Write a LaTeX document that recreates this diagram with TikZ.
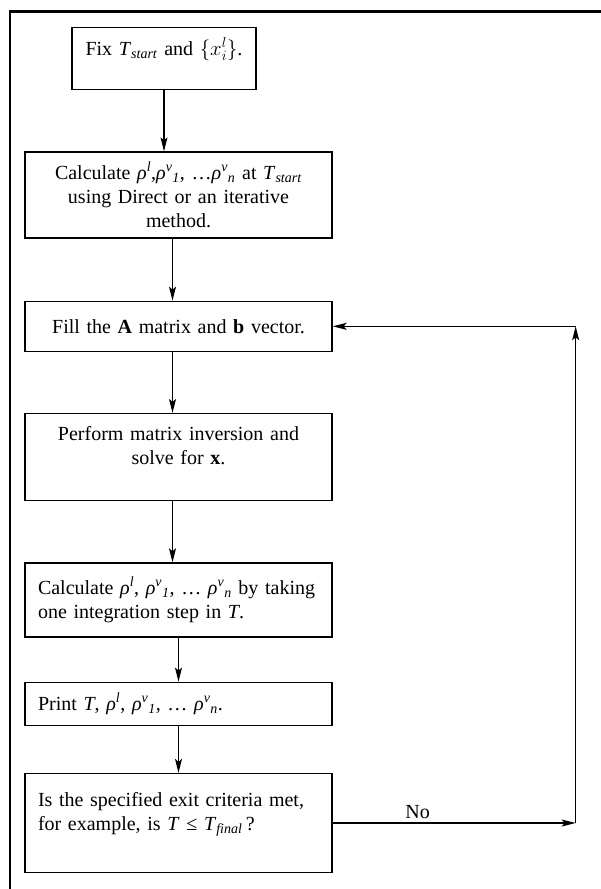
\documentclass[tikz,border=0pt]{standalone}
\usepackage{fontspec}
\setmainfont{Liberation Serif}
\usepackage{tikz}
\usetikzlibrary{arrows.meta,positioning}

\newcommand{\Tsub}[1]{\textit{T}\textsubscript{\textit{#1}}}
\newcommand{\rhol}{\textit{ρ}\textsuperscript{\textit{l}}}
\newcommand{\rhov}[1]{\textit{ρ}\textsuperscript{\textit{v}}\textsubscript{\textit{#1}}}

\begin{document}
\begin{tikzpicture}[x=1pt, y=-1pt,
  node distance=61pt,
  box/.style={draw, line width=1.3pt, rectangle, inner xsep=13pt, inner ysep=3pt,
    text width=281pt, align=center, font=\fontsize{20}{24}\selectfont},
  lbox/.style={box, align=left},
  >={Stealth[length=14pt, width=7pt, inset=3pt]},
  flow/.style={->, line width=1.1pt}]
  \useasboundingbox (0,0) rectangle (601,889);
  % frame round the figure
  \draw[line width=2.6pt] (10,889) -- (10,11.5) -- (601,11.5);

  \node[box, minimum height=86pt] (calc) at (178.5,195)
    {Calculate \rhol,\rhov{1}, …\rhov{n} at \Tsub{start}\\using Direct or an iterative\\method.};
  \node[box, text width=158pt, minimum height=62pt, above=61pt of calc, xshift=-14.5pt] (fix)
    {Fix \Tsub{start} and $\{x_i^{l}\}$.\\\mbox{}};
  \node[box, minimum height=50pt, below=62pt of calc] (fill)
    {Fill the \textbf{A} matrix and \textbf{b} vector.};
  \node[box, minimum height=87pt, below=of fill] (invert)
    {Perform matrix inversion and\\solve for \textbf{x}.\\\mbox{}};
  \node[lbox, minimum height=74pt, below=of invert] (step)
    {Calculate \rhol, \rhov{1}, … \rhov{n} by taking\\one integration step in \textit{T}.};
  \node[lbox, minimum height=43pt, below=44pt of step] (print)
    {Print \textit{T}, \rhol, \rhov{1}, … \rhov{n}.};
  \node[lbox, minimum height=99pt, below=47pt of print] (check)
    {Is the specified exit criteria met,\\for example, is \textit{T} ≤ \Tsub{final}\,?\\\mbox{}};

  \coordinate (nocorner) at ([xshift=243pt]check.east);
  \coordinate (backcorner) at (nocorner |- fill.east);

  \draw[flow] (fix.south) -- (fix.south |- calc.north);
  \draw[flow] ([xshift=-6pt]calc.south) -- ([xshift=-6pt]fill.north);
  \draw[flow] ([xshift=-6pt]fill.south) -- ([xshift=-6pt]invert.north);
  \draw[flow] ([xshift=-6pt]invert.south) -- ([xshift=-6pt]step.north);
  \draw[flow] (step) -- (print);
  \draw[flow] (print) -- (check);
  \draw[flow] (check.east) -- node[above, pos=0.35, font=\fontsize{20}{24}\selectfont] (no) {No} (nocorner);
  \draw[flow] (nocorner) -- (backcorner);
  \draw[flow] (backcorner) -- (fill.east);
\end{tikzpicture}
\end{document}
